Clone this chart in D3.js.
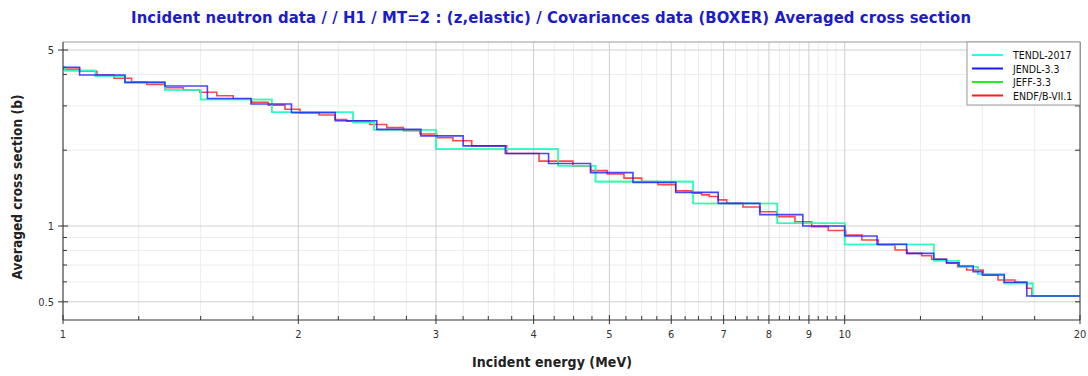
<!DOCTYPE html>
<html>
<head>
<meta charset="utf-8">
<script src="https://cdn.jsdelivr.net/npm/d3@7"></script>
<style>
  body { margin: 0; background: #fff; }
  svg { display: block; }
</style>
</head>
<body>
<div class="vis-boxer"></div>
<script>
// group boundaries (MeV) and averaged cross sections (b)
const tendlE = [1.0, 1.006, 1.1, 1.2, 1.35, 1.5, 1.85, 2.35, 2.5, 3.0, 4.3, 4.8, 6.4, 8.2, 10.0, 13.0, 14.0, 14.8, 16.0, 17.4, 20.0];
const tendlXS = [4.28, 4.14, 3.94, 3.72, 3.47, 3.18, 2.83, 2.58, 2.41, 2.02, 1.735, 1.50, 1.228, 1.025, 0.845, 0.728, 0.689, 0.645, 0.592, 0.527];

const jendlE = [1.0, 1.05, 1.2, 1.35, 1.53, 1.74, 1.96, 2.23, 2.52, 2.87, 3.25, 3.68, 4.18, 4.73, 5.36, 6.08, 6.89, 7.79, 8.84, 10.0, 11.0, 12.0, 13.0, 13.5, 14.0, 14.6, 15.0, 16.0, 17.1, 20.0];
const jendlXS = [4.27, 3.98, 3.72, 3.60, 3.21, 3.05, 2.82, 2.62, 2.42, 2.28, 2.08, 1.94, 1.77, 1.63, 1.49, 1.36, 1.23, 1.11, 1.00, 0.913, 0.846, 0.779, 0.738, 0.715, 0.694, 0.659, 0.639, 0.598, 0.527];

const jeffE = [1.0, 1.006, 1.1, 1.2, 1.35, 1.5, 1.85, 2.35, 2.5, 3.0, 4.3, 4.8, 6.4, 8.2, 10.0, 13.0, 14.0, 14.8, 16.0, 17.4, 20.0];
const jeffXS = [4.28, 4.14, 3.94, 3.72, 3.47, 3.18, 2.83, 2.58, 2.41, 2.02, 1.735, 1.50, 1.228, 1.025, 0.845, 0.728, 0.689, 0.645, 0.592, 0.527];

const endfE = [1.0, 1.051, 1.105, 1.162, 1.224, 1.28, 1.35, 1.425, 1.497, 1.573, 1.651, 1.743, 1.831, 1.923, 2.01, 2.126, 2.228, 2.306, 2.47, 2.595, 2.725, 2.862, 3.006, 3.154, 3.333, 3.695, 4.064, 4.491, 4.732, 4.969, 5.22, 5.499, 5.77, 6.078, 6.383, 6.562, 6.711, 6.885, 7.064, 7.411, 7.792, 8.185, 8.638, 9.074, 9.528, 10.03, 10.52, 11.04, 11.6, 12.02, 12.55, 12.92, 13.5, 13.95, 14.32, 15.04, 15.71, 16.51, 17.09, 17.36, 20.0];
const endfXS = [4.20, 4.12, 3.98, 3.86, 3.74, 3.65, 3.54, 3.47, 3.40, 3.29, 3.19, 3.10, 3.02, 2.91, 2.82, 2.76, 2.65, 2.61, 2.53, 2.46, 2.39, 2.32, 2.24, 2.18, 2.08, 1.94, 1.81, 1.73, 1.66, 1.61, 1.55, 1.50, 1.46, 1.38, 1.35, 1.33, 1.31, 1.27, 1.23, 1.19, 1.14, 1.09, 1.04, 0.994, 0.960, 0.921, 0.880, 0.841, 0.803, 0.779, 0.762, 0.738, 0.711, 0.689, 0.669, 0.639, 0.610, 0.598, 0.566, 0.527];

const libNames = ['TENDL-2017', 'JENDL-3.3', 'JEFF-3.3', 'ENDF/B-VII.1'];
const libColors = ['#22ffee', '#1a1aff', '#22ee22', '#ff1a1a'];

const xMajor = [1, 2, 3, 4, 5, 6, 7, 8, 9, 10, 20];
const xMinor = d3.range(1.25, 10, 0.25).filter(v => v % 1 !== 0).concat([12.5, 15, 17.5]);
const yMajor = [0.5, 1, 5];
const yMinor = [0.6, 0.7, 0.8, 0.9, 2, 3, 4];

const titleText = 'Incident neutron data / / H1 / MT=2 : (z,elastic) / Covariances data (BOXER) Averaged cross section';

const W = 1088, H = 376;
const margin = { top: 42, right: 8, bottom: 56, left: 63 };
const width = W - margin.left - margin.right;
const height = H - margin.top - margin.bottom;
const font = '"DejaVu Sans Condensed", "DejaVu Sans", sans-serif';

const svg = d3.select('.vis-boxer')
    .append('svg')
    .attr('width', W)
    .attr('height', H);

const g = svg.append('g')
    .attr('transform', 'translate(' + margin.left + ',' + margin.top + ')');

let x = d3.scaleLog().domain([1, 20]).range([0, width]);
let y = d3.scaleLog().domain([0.4234, 5.38]).range([height, 0]);

// grid
g.selectAll('.vminor').data(xMinor).enter().append('line')
    .attr('x1', d => x(d)).attr('x2', d => x(d))
    .attr('y1', 0).attr('y2', height)
    .attr('stroke', '#ececec');
g.selectAll('.hminor').data(yMinor).enter().append('line')
    .attr('y1', d => y(d)).attr('y2', d => y(d))
    .attr('x1', 0).attr('x2', width)
    .attr('stroke', '#ececec');
g.selectAll('.vmajor').data(xMajor).enter().append('line')
    .attr('x1', d => x(d)).attr('x2', d => x(d))
    .attr('y1', 0).attr('y2', height)
    .attr('stroke', '#cfcfcf');
g.selectAll('.hmajor').data(yMajor).enter().append('line')
    .attr('y1', d => y(d)).attr('y2', d => y(d))
    .attr('x1', 0).attr('x2', width)
    .attr('stroke', '#cfcfcf');

// step curves
const series = [
    { e: endfE, xs: endfXS, c: libColors[3] },
    { e: jeffE, xs: jeffXS, c: libColors[2] },
    { e: tendlE, xs: tendlXS, c: libColors[0] },
    { e: jendlE, xs: jendlXS, c: libColors[1] }
];
const line = d3.line()
    .x(d => x(d[0]))
    .y(d => y(d[1]))
    .curve(d3.curveStepAfter);

series.forEach(s => {
    let pts = s.xs.map((v, i) => [s.e[i], v]);
    pts.push([s.e[s.e.length - 1], s.xs[s.xs.length - 1]]);
    g.append('path')
        .datum(pts)
        .attr('d', line)
        .attr('fill', 'none')
        .attr('stroke', s.c)
        .attr('stroke-opacity', 0.8)
        .attr('stroke-width', 1.6);
});

// frame
g.append('line').attr('x1', 0).attr('x2', width).attr('y1', 0).attr('y2', 0).attr('stroke', '#9a9a9a');
g.append('line').attr('x1', width).attr('x2', width).attr('y1', 0).attr('y2', height).attr('stroke', '#444');
g.append('line').attr('x1', 0).attr('x2', 0).attr('y1', 0).attr('y2', height).attr('stroke', '#333');
g.append('line').attr('x1', 0).attr('x2', width).attr('y1', height).attr('y2', height).attr('stroke', '#333');

// ticks
g.selectAll('.xt').data(xMinor).enter().append('line')
    .attr('x1', d => x(d)).attr('x2', d => x(d))
    .attr('y1', height - 4).attr('y2', height)
    .attr('stroke', '#333');
g.selectAll('.xT').data(xMajor).enter().append('line')
    .attr('x1', d => x(d)).attr('x2', d => x(d))
    .attr('y1', height - 5).attr('y2', height + 4)
    .attr('stroke', '#333');
g.selectAll('.yt').data(yMinor).enter().append('line')
    .attr('y1', d => y(d)).attr('y2', d => y(d))
    .attr('x1', 0).attr('x2', 4)
    .attr('stroke', '#333');
g.selectAll('.yT').data(yMajor).enter().append('line')
    .attr('y1', d => y(d)).attr('y2', d => y(d))
    .attr('x1', -5).attr('x2', 5)
    .attr('stroke', '#333');
g.selectAll('.yr').data(yMinor.concat(yMajor)).enter().append('line')
    .attr('y1', d => y(d)).attr('y2', d => y(d))
    .attr('x1', width - 5).attr('x2', width)
    .attr('stroke', '#333');

// tick labels
g.selectAll('.xl').data(xMajor).enter().append('text')
    .attr('x', d => x(d))
    .attr('y', height + 18)
    .attr('text-anchor', 'middle')
    .attr('font-family', font)
    .attr('font-size', '11px')
    .attr('fill', '#333')
    .text(d => d);
g.selectAll('.yl').data(yMajor).enter().append('text')
    .attr('x', -9)
    .attr('y', d => y(d) + 4)
    .attr('text-anchor', 'end')
    .attr('font-family', font)
    .attr('font-size', '11px')
    .attr('fill', '#333')
    .text(d => d);

// axis titles
svg.append('text')
    .attr('x', 552).attr('y', 367)
    .attr('text-anchor', 'middle')
    .attr('font-family', font)
    .attr('font-weight', 'bold')
    .attr('font-size', '14px')
    .attr('fill', '#222')
    .attr('textLength', 160)
    .text('Incident energy (MeV)');
svg.append('text')
    .attr('transform', 'translate(22,187) rotate(-90)')
    .attr('text-anchor', 'middle')
    .attr('font-family', font)
    .attr('font-weight', 'bold')
    .attr('font-size', '13.5px')
    .attr('fill', '#222')
    .attr('textLength', 185)
    .text('Averaged cross section (b)');

// title
svg.append('text')
    .attr('x', 551).attr('y', 23)
    .attr('text-anchor', 'middle')
    .attr('font-family', font)
    .attr('font-weight', 'bold')
    .attr('font-size', '16.5px')
    .attr('fill', '#1c1cc8')
    .attr('textLength', 840)
    .text(titleText);

// legend
const lg = svg.append('g').attr('transform', 'translate(967,42)');
lg.append('rect')
    .attr('width', 113).attr('height', 63)
    .attr('fill', '#fff')
    .attr('stroke', '#999');
libNames.forEach((name, i) => {
    lg.append('line')
        .attr('x1', 5).attr('x2', 36)
        .attr('y1', 13 + i * 13.5).attr('y2', 13 + i * 13.5)
        .attr('stroke', libColors[i])
        .attr('stroke-width', 2);
    lg.append('text')
        .attr('x', 46).attr('y', 17 + i * 13.5)
        .attr('font-family', font)
        .attr('font-size', '10.5px')
        .attr('fill', '#111')
        .text(name);
});
</script>
</body>
</html>
